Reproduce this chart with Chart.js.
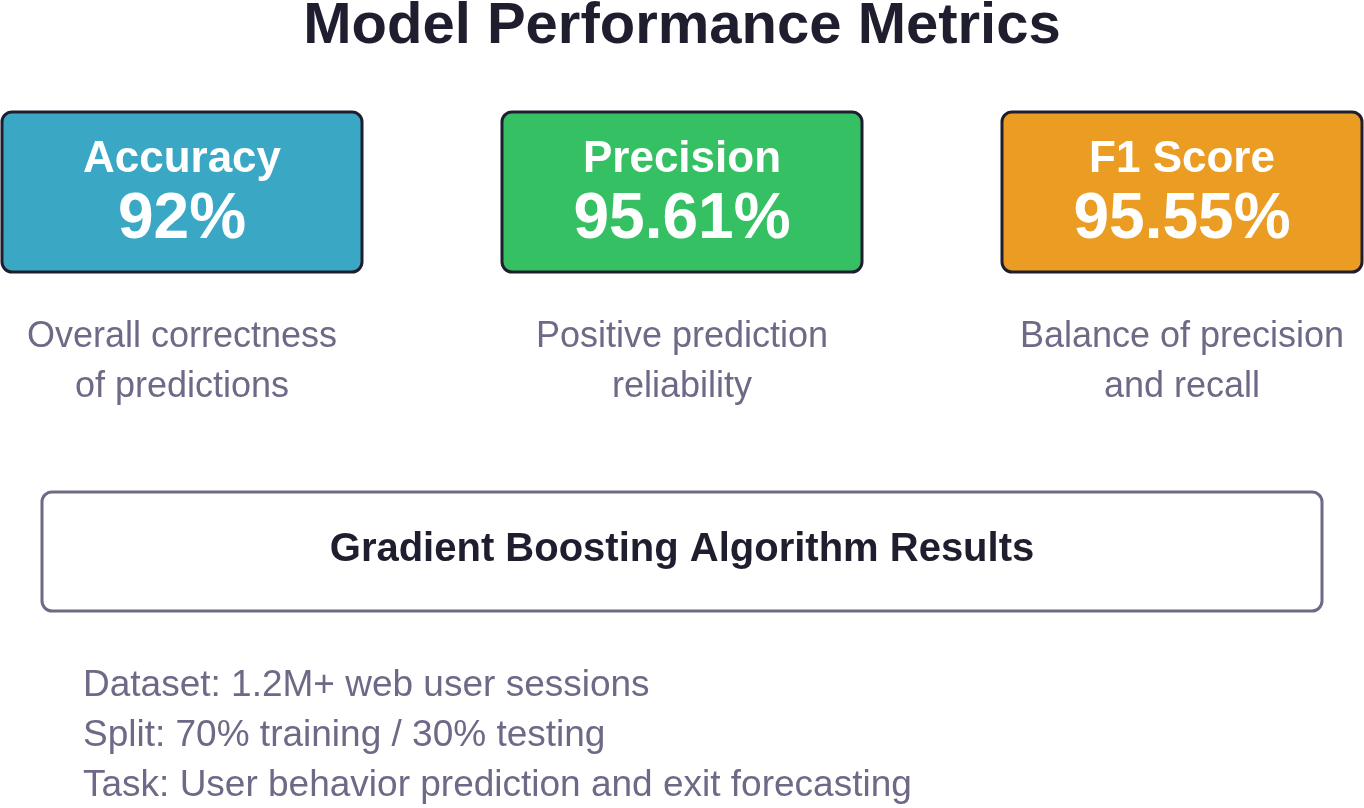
<!DOCTYPE html>
<html><head><meta charset="utf-8">
<script src="https://cdn.jsdelivr.net/npm/chart.js@4"></script>
<style>html,body{margin:0;padding:0;background:#fff}#wrap{width:1364px;height:808px}</style>
</head><body><div id="wrap"><canvas id="c"></canvas></div>
<script>
const titleText = "Model Performance Metrics";
const metricNames = ["Accuracy", "Precision", "F1 Score"];
const metricValues = ["92%", "95.61%", "95.55%"];
const metricDescs = [["Overall correctness","of predictions"],["Positive prediction","reliability"],["Balance of precision","and recall"]];
const metricColors = ["#3aa8c5", "#35c163", "#eb9c22"];
const summaryTitle = "Gradient Boosting Algorithm Results";
const infoLines = ["Dataset: 1.2M+ web user sessions","Split: 70% training / 30% testing","Task: User behavior prediction and exit forecasting"];

function rr(ctx,x,y,w,h,r){ctx.beginPath();ctx.moveTo(x+r,y);ctx.arcTo(x+w,y,x+w,y+h,r);ctx.arcTo(x+w,y+h,x,y+h,r);ctx.arcTo(x,y+h,x,y,r);ctx.arcTo(x,y,x+w,y,r);ctx.closePath();}
const F = "'Liberation Sans', Arial, sans-serif";
const infographic = {
  id:'infographic',
  afterDraw(chart){
    const ctx = chart.ctx;
    ctx.save();
    ctx.fillStyle="#fff";ctx.fillRect(0,0,chart.width,chart.height);
    ctx.textAlign="center";ctx.textBaseline="middle";
    ctx.fillStyle="#1f1e2e";ctx.font="bold 58px "+F;
    ctx.fillText(titleText,682,27);
    metricNames.forEach((n,i)=>{
      const x=2+i*500, y=112, w=360, h=160;
      rr(ctx,x,y,w,h,10);ctx.fillStyle=metricColors[i];ctx.fill();
      ctx.lineWidth=3;ctx.strokeStyle="#1f1e2e";ctx.stroke();
      ctx.fillStyle="#fff";ctx.font="bold 44px "+F;ctx.fillText(n,x+w/2,160);
      ctx.font="bold 64px "+F;ctx.fillText(metricValues[i],x+w/2,220);
      ctx.fillStyle="#6d6a87";ctx.font="36px "+F;
      metricDescs[i].forEach((l,j)=>ctx.fillText(l,x+w/2,337+j*50));
    });
    rr(ctx,42,492,1280,119,10);ctx.fillStyle="#fff";ctx.fill();
    ctx.lineWidth=3;ctx.strokeStyle="#6d6a87";ctx.stroke();
    ctx.fillStyle="#1f1e2e";ctx.font="bold 40px "+F;ctx.fillText(summaryTitle,682,550);
    ctx.textAlign="left";ctx.fillStyle="#6d6a87";ctx.font="37px "+F;
    infoLines.forEach((l,j)=>ctx.fillText(l,83,686+j*50));
    ctx.restore();
  }
};
new Chart(document.getElementById('c'),{
  type:'scatter',
  data:{datasets:[{data:[]}]},
  options:{responsive:true,maintainAspectRatio:false,animation:false,
    plugins:{legend:{display:false},tooltip:{enabled:false}},
    scales:{x:{display:false},y:{display:false}}},
  plugins:[infographic]
});
</script></body></html>
